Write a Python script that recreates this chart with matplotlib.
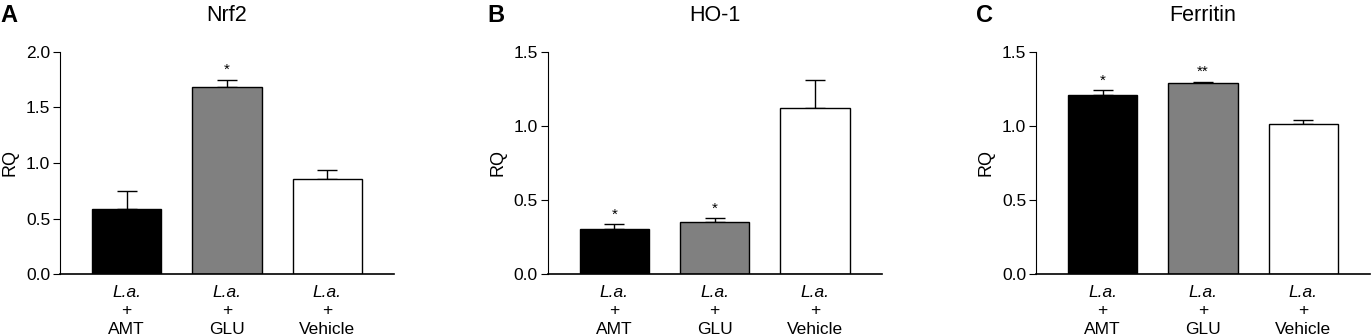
import numpy as np
import matplotlib
matplotlib.use("Agg")
import matplotlib.pyplot as plt
from matplotlib.ticker import MultipleLocator

plt.rcParams['font.family'] = ['Liberation Sans', 'DejaVu Sans']

# data
groups = ["AMT", "GLU", "Vehicle"]
titles = ["Nrf2", "HO-1", "Ferritin"]
letters = ["A", "B", "C"]
nrf2_mean = [0.59, 1.68, 0.86]
nrf2_err = [0.155, 0.07, 0.075]
ho1_mean = [0.303, 0.350, 1.119]
ho1_err = [0.034, 0.027, 0.19]
ferritin_mean = [1.208, 1.289, 1.015]
ferritin_err = [0.032, 0.009, 0.023]
nrf2_stars = ["", "*", ""]
ho1_stars = ["*", "*", ""]
ferritin_stars = ["*", "**", ""]
ymax = [2.0, 1.5, 1.5]

means = [nrf2_mean, ho1_mean, ferritin_mean]
errs = [nrf2_err, ho1_err, ferritin_err]
stars = [nrf2_stars, ho1_stars, ferritin_stars]
colors = ["black", "#808080", "white"]

fig = plt.figure(figsize=(13.71, 3.36), dpi=100)
lefts = [60, 547.7, 1036]
W, H = 1371, 336

for k in range(3):
    ax = fig.add_axes([lefts[k] / W, 1 - 274.3 / H, 334 / W, 222.6 / H])
    x = np.arange(3)
    ax.bar(x, means[k], width=0.69, color=colors, edgecolor="black", linewidth=1.0, zorder=2)
    ax.errorbar(x, means[k], yerr=[np.zeros(3), errs[k]], fmt="none", ecolor="black",
                elinewidth=1.0, capsize=7, capthick=1.0, zorder=1)
    for i in range(3):
        if stars[k][i]:
            ax.annotate(stars[k][i], (x[i], means[k][i] + errs[k][i]), xytext=(0, 4),
                        textcoords="offset points", ha="center", va="baseline", fontsize=11)
        ax.annotate("L.a.", (x[i], 0), xycoords=("data", "axes fraction"), xytext=(0, -13.2),
                    textcoords="offset points", ha="center", va="center", fontsize=12.5, style="italic")
        ax.annotate("+", (x[i], 0), xycoords=("data", "axes fraction"), xytext=(0, -26.4),
                    textcoords="offset points", ha="center", va="center", fontsize=12.5)
        ax.annotate(groups[i], (x[i], 0), xycoords=("data", "axes fraction"), xytext=(0, -39.8),
                    textcoords="offset points", ha="center", va="center", fontsize=12.5)
    ax.set_xlim(-0.665, 2.665)
    ax.set_ylim(0, ymax[k])
    ax.yaxis.set_major_locator(MultipleLocator(0.5))
    ax.yaxis.set_major_formatter(plt.FormatStrFormatter("%.1f"))
    ax.set_xticks([])
    ax.spines["top"].set_visible(False)
    ax.spines["right"].set_visible(False)
    ax.spines["left"].set_linewidth(0.8)
    ax.spines["bottom"].set_linewidth(1.2)
    ax.tick_params(axis="y", direction="out", length=5, width=0.8, labelsize=12.5, pad=2)
    ax.set_ylabel("RQ", fontsize=13, labelpad=5)
    ax.set_title(titles[k], fontsize=15.5, pad=22)
    fig.text((lefts[k] - 60) / W, 1 - 15 / H, letters[k], fontsize=17, fontweight="bold",
             ha="left", va="center")

fig.savefig("out.png", dpi=100)
